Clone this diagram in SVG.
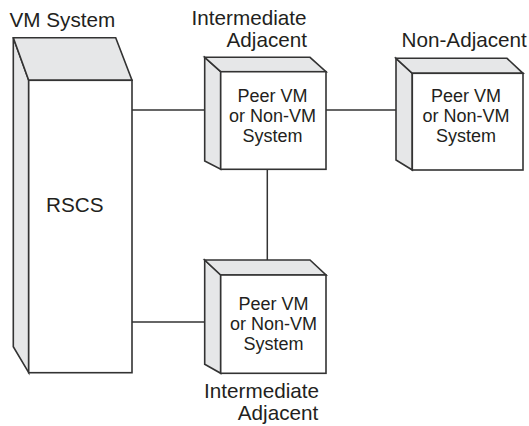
<svg xmlns="http://www.w3.org/2000/svg" width="529" height="426" viewBox="0 0 529 426">
<style>
.face{fill:#ffffff;stroke:#333333;stroke-width:1.6;stroke-linejoin:miter}
.side{fill:#e6e7e8;stroke:#333333;stroke-width:1.6;stroke-linejoin:miter}
.conn{stroke:#333333;stroke-width:1.5;fill:none}
text{font-family:"Liberation Sans",Arial,sans-serif;fill:#231f20}
.lbl{font-size:20.7px}
.in{font-size:18px;text-anchor:middle}
</style>
<rect width="529" height="426" fill="#ffffff"/>
<g id="connectors">
<line class="conn" x1="132" y1="110" x2="204.7" y2="110"/>
<line class="conn" x1="326" y1="110" x2="396" y2="110"/>
<line class="conn" x1="267.3" y1="169.3" x2="267.3" y2="260"/>
<line class="conn" x1="132" y1="322" x2="204.7" y2="322"/>
</g>
<g id="vm-system">
<polygon class="side" points="13.3,37.7 28.7,80.3 28.7,372.7 13.3,346.7"/>
<polygon class="side" points="13.3,37.7 115.7,37.7 132,80.3 28.7,80.3"/>
<rect class="face" x="28.7" y="80.3" width="103.3" height="292.4"/>
<text class="lbl" x="9.5" y="26.5">VM System</text>
<text class="lbl" x="46" y="211.5">RSCS</text>
</g>
<g id="peer-top">
<polygon class="side" points="204.7,57.3 220.7,71.7 220.7,169.3 204.7,161"/>
<polygon class="side" points="204.7,57.3 310,57.3 326,71.7 220.7,71.7"/>
<rect class="face" x="220.7" y="71.7" width="105.3" height="97.6"/>
<text class="in" x="272.5" y="101.7">Peer VM</text>
<text class="in" x="272.5" y="122">or Non-VM</text>
<text class="in" x="272.5" y="142">System</text>
<text class="lbl" x="191.5" y="25">Intermediate</text>
<text class="lbl" x="307" y="46.7" text-anchor="end">Adjacent</text>
</g>
<g id="peer-right">
<polygon class="side" points="396,58.3 412.3,73.3 412.3,170 396,160"/>
<polygon class="side" points="396,58.3 507,58.3 523,73.3 412.3,73.3"/>
<rect class="face" x="412.3" y="73.3" width="110.7" height="96.7"/>
<text class="in" x="466" y="102">Peer VM</text>
<text class="in" x="466" y="122.3">or Non-VM</text>
<text class="in" x="466" y="142.3">System</text>
<text class="lbl" x="401.5" y="46.7">Non-Adjacent</text>
</g>
<g id="peer-bottom">
<polygon class="side" points="204.7,260 220.7,275 220.7,373.3 204.7,364.3"/>
<polygon class="side" points="204.7,260 310,260 326,275 220.7,275"/>
<rect class="face" x="220.7" y="275" width="105.3" height="98.3"/>
<text class="in" x="273.5" y="310">Peer VM</text>
<text class="in" x="273.5" y="330">or Non-VM</text>
<text class="in" x="273.5" y="350">System</text>
<text class="lbl" x="204" y="398.3">Intermediate</text>
<text class="lbl" x="318.3" y="420" text-anchor="end">Adjacent</text>
</g>
</svg>
